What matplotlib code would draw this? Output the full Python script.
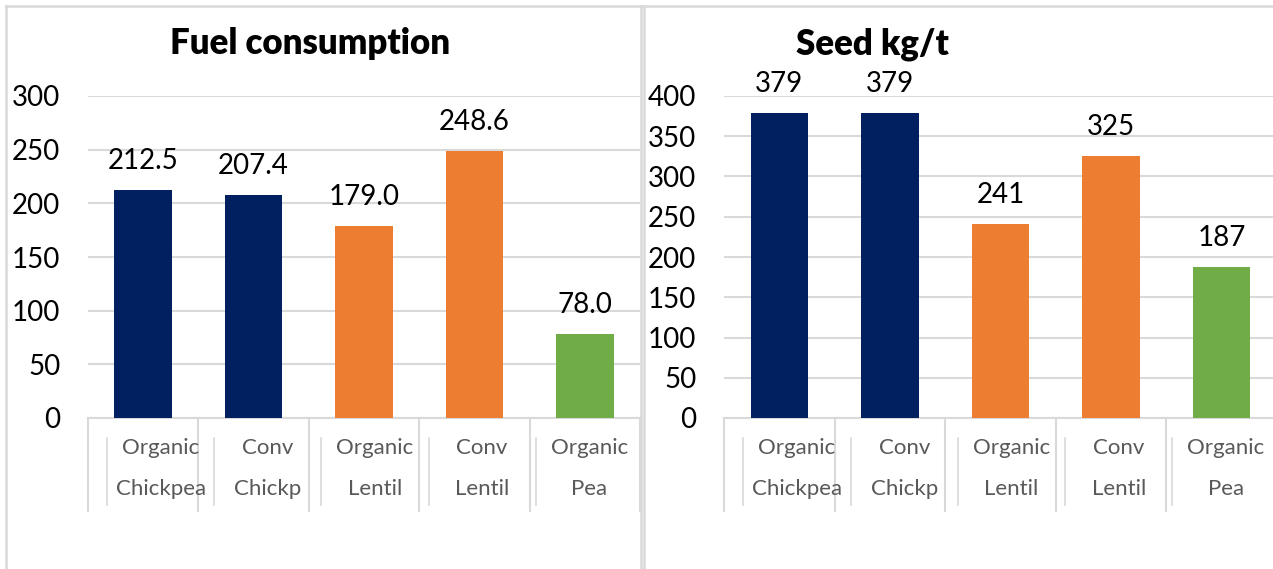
import matplotlib.pyplot as plt
from matplotlib.lines import Line2D

plt.rcParams['font.family'] = ['Lato', 'DejaVu Sans']

# crop groups shared by both panels
line1 = ["Organic", "Conv", "Organic", "Conv", "Organic"]
line2 = ["Chickpea", "Chickp", "Lentil", "Lentil", "Pea"]
colors = ["#002060", "#002060", "#ED7D31", "#ED7D31", "#70AD47"]

fuel = [212.5, 207.4, 179.0, 248.6, 78.0]
seed = [379, 379, 241, 325, 187]

W, H = 1273, 569
GRID = "#d9d9d9"
LABEL = "#595959"


def px_box(x0, x1, y_top, y_bot):
    return [x0 / W, (H - y_bot) / H, (x1 - x0) / W, (y_bot - y_top) / H]


def draw_panel(ax, values, ymax, step, fmt):
    x = list(range(len(values)))
    ax.bar(x, values, width=0.52, color=colors, zorder=3)
    ax.set_xlim(-0.5, len(values) - 0.5)
    ax.set_ylim(0, ymax)
    ax.set_yticks(range(0, ymax + 1, step))
    ax.tick_params(axis='y', length=0, pad=20, labelsize=20)
    ax.set_xticks([])
    ax.grid(axis='y', color=GRID, linewidth=1.5, zorder=0)
    for s in ['top', 'right', 'left']:
        ax.spines[s].set_visible(False)
    ax.spines['bottom'].set_color(GRID)
    ax.spines['bottom'].set_linewidth(1.5)

    for xi, v in zip(x, values):
        ax.annotate(fmt.format(v), (xi, v), xytext=(0, 21), textcoords='offset points',
                    ha='center', va='center', fontsize=20, color='black')

    trans = ax.get_xaxis_transform()
    # category divider ticks
    for b in range(len(values) + 1):
        ax.plot([b - 0.5, b - 0.5], [0, -0.29], color=GRID, lw=1.5,
                transform=trans, clip_on=False)
    # wrapped label boxes
    for i in range(len(values)):
        left = -0.325 + 0.97 * i
        ax.plot([left, left], [-0.062, -0.27], color=GRID, lw=1.2,
                transform=trans, clip_on=False)
        cx = left + 0.485
        ax.text(cx, -0.093, line1[i], transform=trans, ha='center', va='center',
                fontsize=16, color=LABEL)
        ax.text(cx, -0.22, line2[i], transform=trans, ha='center', va='center',
                fontsize=16, color=LABEL)


fig = plt.figure(figsize=(W / 100, H / 100), dpi=100)

ax1 = fig.add_axes(px_box(88, 640, 96, 418))
draw_panel(ax1, fuel, 300, 50, "{:.1f}")
ax2 = fig.add_axes(px_box(724, 1277, 96, 418))
draw_panel(ax2, seed, 400, 50, "{:.0f}")

fig.text(310 / W, 1 - 44 / H, "Fuel consumption", ha='center', va='center',
         fontsize=25, fontweight='heavy')
fig.text(872 / W, 1 - 44 / H, "Seed kg/t", ha='center', va='center',
         fontsize=25, fontweight='heavy')

# chart frames
def frame_line(x0, y0, x1, y1):
    fig.add_artist(Line2D([x0 / W, x1 / W], [1 - y0 / H, 1 - y1 / H],
                          color=GRID, lw=1.8))

frame_line(6, 6, 6, H)
frame_line(6, 6, 641, 6)
frame_line(641, 6, 641, H)
frame_line(644, 6, 644, H)
frame_line(644, 6, W, 6)

fig.savefig("out.png", dpi=100)
